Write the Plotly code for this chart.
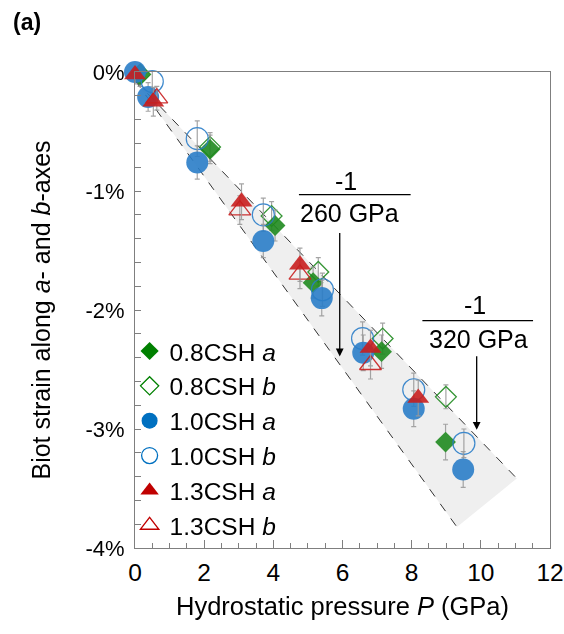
import plotly.graph_objects as go

# ---------------- data ----------------
p_08a = [0.15, 2.17, 4.05, 5.15, 7.13, 8.98]
s_08a = [-0.02, -0.65, -1.29, -1.77, -2.35, -3.11]
e_08a = [0.10, 0.12, 0.13, 0.13, 0.14, 0.15]

p_08b = [0.15, 2.17, 3.95, 5.30, 7.16, 8.99]
s_08b = [-0.02, -0.63, -1.21, -1.68, -2.24, -2.73]
e_08b = [0.10, 0.12, 0.12, 0.12, 0.13, 0.10]

p_10a = [0.00, 0.38, 1.80, 3.71, 5.40, 6.60, 8.06, 9.49]
s_10a = [0.00, -0.21, -0.76, -1.42, -1.90, -2.36, -2.83, -3.34]
e_10a = [0.08, 0.12, 0.14, 0.14, 0.15, 0.15, 0.15, 0.15]

p_10b = [0.50, 1.80, 3.71, 5.42, 6.58, 8.06, 9.51]
s_10b = [-0.08, -0.56, -1.20, -1.83, -2.24, -2.67, -3.12]
e_10b = [0.10, 0.15, 0.14, 0.14, 0.14, 0.14, 0.12]

p_13a = [0.00, 0.53, 3.08, 4.77, 6.81, 8.19]
s_13a = [-0.02, -0.25, -1.09, -1.62, -2.32, -2.74]
e_13a = [0.08, 0.12, 0.15, 0.14, 0.15, 0.15]

p_13b = [0.63, 3.03, 4.77, 6.81]
s_13b = [-0.22, -1.16, -1.70, -2.46]
e_13b = [0.10, 0.12, 0.12, 0.12]

series_names = ["0.8CSH <i>a</i>", "0.8CSH <i>b</i>", "1.0CSH <i>a</i>",
                "1.0CSH <i>b</i>", "1.3CSH <i>a</i>", "1.3CSH <i>b</i>"]

# bounding band: strain(%) = apex - 100 * P / modulus
band_apex = -0.07
modulus_low = 248.0     # labelled "260 GPa"
modulus_high = 330.0    # labelled "320 GPa"
band_end_low = 9.31
band_end_high = 11.04

x_ticks = [0, 2, 4, 6, 8, 10, 12]
y_ticks = [0, -1, -2, -3, -4]
y_ticktext = ["0%", "-1%", "-2%", "-3%", "-4%"]

# ---------------- styles ----------------
GREEN, BLUE, RED = "#1f8a1f", "#2a7dc8", "#c81e1e"
GREEN_L, BLUE_L, RED_L = "#008000", "#0070C0", "#C00000"
FONT = "Liberation Sans, Arial, sans-serif"

fig = go.Figure()

def err(vals):
    return dict(type="data", array=vals, visible=True, color="#9a9a9a",
                thickness=1.2, width=2.5)

specs = [
    (p_08b, s_08b, e_08b, "diamond-open", 16, GREEN, 1.3),
    (p_08a, s_08a, e_08a, "diamond", 16, GREEN, 0),
    (p_10b, s_10b, e_10b, "circle-open", 22, BLUE, 1.2),
    (p_10a, s_10a, e_10a, "circle", 22, BLUE, 0),
    (p_13b, s_13b, e_13b, "triangle-up-open", 19, RED, 1.3),
    (p_13a, s_13a, e_13a, "triangle-up", 19, RED, 0),
]
for px, py, pe, sym, size, col, lw in specs:
    fig.add_trace(go.Scatter(
        x=px, y=py, mode="markers", error_y=err(pe), showlegend=False,
        cliponaxis=False, opacity=0.9,
        marker=dict(symbol=sym, size=size, color=col,
                    line=dict(width=lw, color=col))))

legend_specs = [
    ("diamond", 14, GREEN_L, 0),
    ("diamond-open", 14, GREEN_L, 1.3),
    ("circle", 20, BLUE_L, 0),
    ("circle-open", 20, BLUE_L, 1.3),
    ("triangle-up", 18, RED_L, 0),
    ("triangle-up-open", 18, RED_L, 1.3),
]
for name, (sym, size, col, lw) in zip(series_names, legend_specs):
    fig.add_trace(go.Scatter(
        x=[None], y=[None], mode="markers", name=name, legendgroup=name,
        marker=dict(symbol=sym, size=size, color=col,
                    line=dict(width=lw, color=col))))

# band & dashed bounds
low_end = band_apex - 100 * band_end_low / modulus_low
high_end = band_apex - 100 * band_end_high / modulus_high
fig.add_shape(type="path", xref="x", yref="y", layer="below",
              path=f"M 0,{band_apex} L {band_end_low},{low_end} L {band_end_high},{high_end} Z",
              fillcolor="#efefef", line=dict(width=0))
for xe, ye in [(band_end_low, low_end), (band_end_high, high_end)]:
    fig.add_shape(type="line", xref="x", yref="y", layer="below",
                  x0=0, y0=band_apex, x1=xe, y1=ye,
                  line=dict(color="#333333", width=1, dash="dash"))

# fraction labels with arrows
def fraction(xc, ytop, x0, x1, yline, ybot, label, xa, ya0, ya1):
    fig.add_annotation(x=xc, y=ytop, xref="x", yref="y", text="-1", showarrow=False,
                       font=dict(size=25, color="black", family=FONT))
    fig.add_shape(type="line", xref="x", yref="y", x0=x0, x1=x1, y0=yline, y1=yline,
                  line=dict(color="black", width=1.3))
    fig.add_annotation(x=xc + 0.1, y=ybot, xref="x", yref="y", text=label, showarrow=False,
                       font=dict(size=25, color="black", family=FONT))
    fig.add_annotation(x=xa, y=ya1, ax=xa, ay=ya0, xref="x", yref="y", axref="x", ayref="y",
                       text="", showarrow=True, arrowhead=2, arrowsize=1.2,
                       arrowwidth=1.3, arrowcolor="black")

fraction(6.1, -0.92, 4.74, 7.97, -1.03, -1.185, "260 GPa", 5.92, -1.34, -2.39)
fraction(9.83, -1.955, 8.31, 11.51, -2.09, -2.244, "320 GPa", 9.88, -2.376, -3.006)

fig.add_annotation(x=-0.30, y=1.106, xref="paper", yref="paper", text="<b>(a)</b>",
                   showarrow=False, xanchor="left", yanchor="middle",
                   font=dict(size=23, color="black", family=FONT))

axis_common = dict(showgrid=False, zeroline=False, showline=True, linecolor="#7f7f7f",
                   linewidth=1.2, mirror=True, ticks="inside", tickcolor="#7f7f7f",
                   color="black", automargin=False)
fig.update_xaxes(range=[0, 12], tickvals=x_ticks, ticklen=8, ticklabelstandoff=2,
                 minor=dict(dtick=0.5, ticks="inside", ticklen=5, tickcolor="#7f7f7f"),
                 tickfont=dict(size=24.5, family=FONT, color="black"),
                 title=dict(text="Hydrostatic pressure <i>P</i> (GPa)",
                            font=dict(size=25.5, family=FONT, color="black"), standoff=12),
                 **axis_common)
fig.update_yaxes(range=[-4, 0], tickvals=y_ticks, ticktext=y_ticktext, ticklen=6,
                 ticklabelstandoff=5,
                 minor=dict(dtick=0.2, ticks="inside", ticklen=6, tickcolor="#7f7f7f"),
                 tickfont=dict(size=22, family=FONT, color="black"),
                 title=dict(text="Biot strain along <i>a</i>- and <i>b</i>-axes",
                            font=dict(size=25, family=FONT, color="black"), standoff=27),
                 **axis_common)

fig.update_layout(
    width=564, height=634, margin=dict(l=135, r=14, t=72, b=86),
    plot_bgcolor="white", paper_bgcolor="white",
    font=dict(family=FONT, color="black"),
    legend=dict(x=-0.013, y=0.461, xanchor="left", yanchor="top",
                bgcolor="rgba(0,0,0,0)", font=dict(size=24.5, family=FONT, color="black"),
                tracegroupgap=0, itemsizing="trace"),
)

# remove the default page margin so the figure fills the window exactly
fig.write_html("out.html", config={"displayModeBar": False},
               post_script="document.body.style.margin='0';document.body.style.overflow='hidden';")
